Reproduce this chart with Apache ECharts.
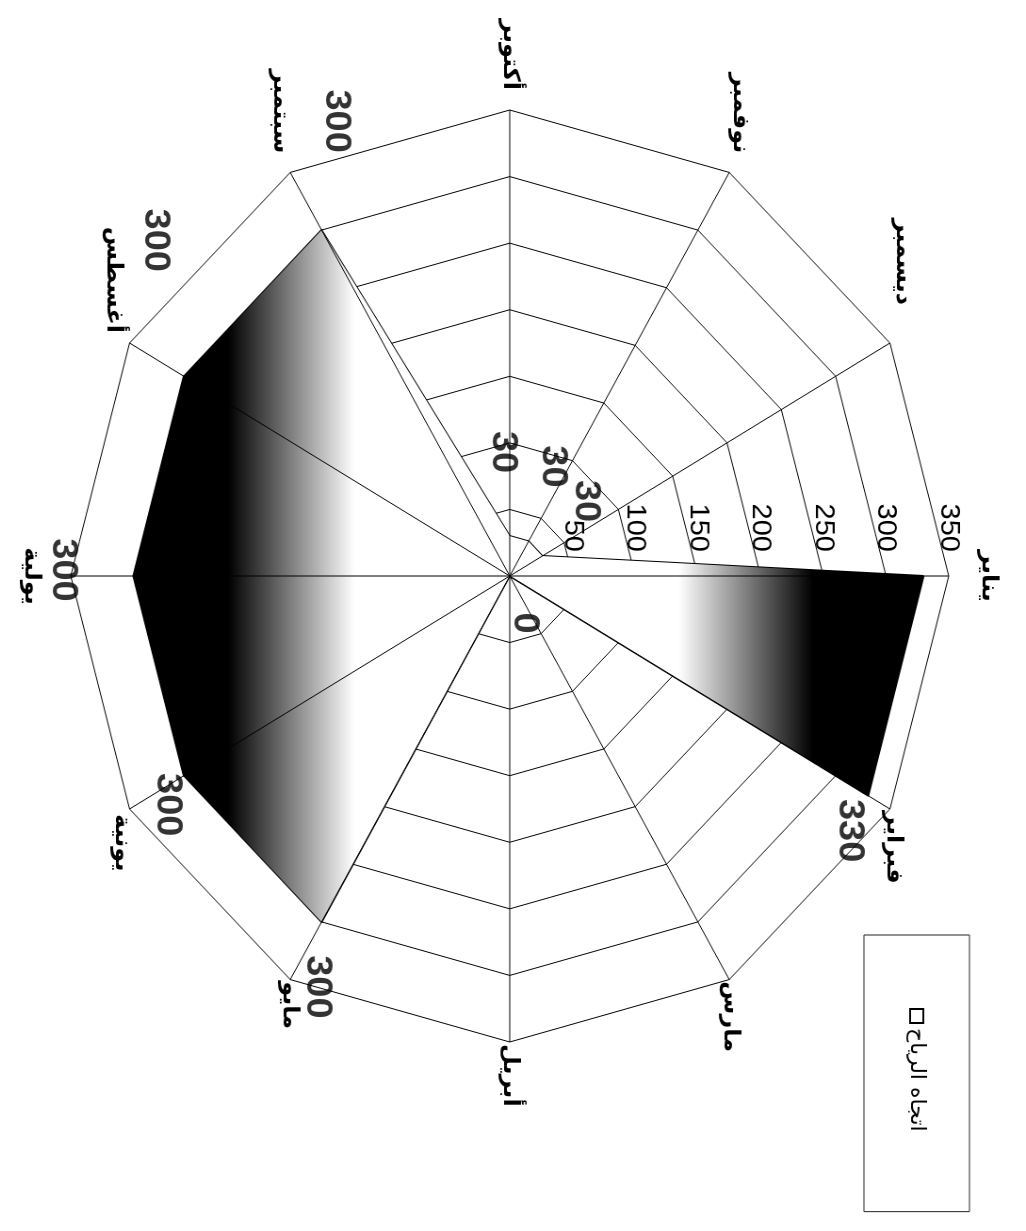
<!DOCTYPE html>
<html lang="ar">
<head>
<meta charset="utf-8">
<title>اتجاه الرياح</title>
<script src="https://cdn.jsdelivr.net/npm/echarts@6/dist/echarts.min.js"></script>
<style>
  html, body { margin: 0; padding: 0; background: #fff; overflow: hidden; width: 1026px; height: 1231px; }
  /* the chart is laid out landscape and turned a quarter turn clockwise on the page */
  #chart {
    position: absolute; left: 0; top: 0;
    width: 1231px; height: 1089px;
    transform-origin: 0 0;
    transform: translate(1026px, 0) rotate(90deg) scaleY(0.94206);
  }
</style>
</head>
<body>
<div id="chart"></div>
<script>
// months, clockwise from the top spoke
const months = ['يناير', 'فبراير', 'مارس', 'أبريل', 'مايو', 'يونية', 'يولية', 'أغسطس', 'سبتمبر', 'أكتوبر', 'نوفمبر', 'ديسمبر'];
// prevailing wind direction (degrees) for each month
const windDirection = [330, 330, 0, 0, 300, 300, 300, 300, 300, 30, 30, 30];
const seriesName = 'اتجاه الرياح';
const axisMin = 0;
const axisMax = 350;
const axisStep = 50;

// where each month's value label sits relative to its point; null hides it
const labelOffsets = [null, [35, 20], [47, -15], null, [65, 5], [29, 18], [-6, 75], [-136, 31], [-109, -15], [-84, 8], [-75, -26], [-55, -46]];
// distance of each month name from the outer ring
const nameGaps = [30, 4, 2, 2, 2, 10, 30, 20, 22, 20, 22, 16];
// months whose name is nudged further away from its spoke
const nudgedNames = [months[11]];

const CENTER = [576, 548];
const RADIUS = 466;
const NUM_FONT = '"Liberation Sans Narrow", "Arial Narrow", "Liberation Sans", Arial, sans-serif';
const AR_FONT = '"DejaVu Sans", sans-serif';

// radar indicators run counter-clockwise, so keep the first month on top and reverse the rest
const radarOrder = [0].concat(months.map((_, i) => i).slice(1).reverse());

const indicators = radarOrder.map(function (i) {
  const ind = { name: months[i], min: axisMin, max: axisMax, nameGap: nameGaps[i] };
  if (i === 0) ind.axisLabel = { show: true };
  return ind;
});

const labelPoints = windDirection.map(function (v, i) {
  const off = labelOffsets[i];
  return {
    value: [v, i],
    label: off ? { show: true, offset: off } : { show: false }
  };
});

const chart = echarts.init(document.getElementById('chart'), null, { renderer: 'canvas' });

chart.setOption({
  backgroundColor: '#fff',
  animation: false,
  legend: {
    data: [{ name: seriesName, icon: 'rect', itemStyle: { color: '#fff', borderColor: '#000', borderWidth: 2 } }],
    left: 935,
    top: 60,
    padding: [45, 80, 45, 73],
    borderColor: '#222',
    borderWidth: 1,
    itemWidth: 14,
    itemHeight: 14,
    textStyle: { fontSize: 22, color: '#000', fontFamily: AR_FONT }
  },
  radar: {
    center: CENTER,
    radius: RADIUS,
    startAngle: 90,
    shape: 'polygon',
    splitNumber: (axisMax - axisMin) / axisStep,
    indicator: indicators,
    axisName: {
      color: '#000', fontSize: 24, fontWeight: 'bold', fontFamily: AR_FONT,
      formatter: name => nudgedNames.indexOf(name) >= 0 ? '{far|' + name + '}' : name,
      rich: {
        far: { color: '#000', fontSize: 24, fontWeight: 'bold', fontFamily: AR_FONT, padding: [0, 30, 0, 0] }
      }
    },
    axisLine: { show: false },
    axisTick: { show: false },
    splitArea: { show: false },
    splitLine: { lineStyle: { color: '#000', width: 1 } },
    axisLabel: { show: false, color: '#000', fontSize: 29, fontFamily: NUM_FONT, margin: 24 }
  },
  polar: { center: CENTER, radius: RADIUS },
  angleAxis: {
    type: 'category',
    data: months,
    startAngle: 90,
    clockwise: true,
    boundaryGap: false,
    z: 5,
    axisLine: { show: false },
    axisTick: { show: false },
    axisLabel: { show: false },
    splitLine: { show: true, lineStyle: { color: '#000', width: 1 } }
  },
  radiusAxis: { min: axisMin, max: axisMax, show: false },
  series: [
    {
      type: 'radar',
      name: seriesName,
      symbol: 'none',
      lineStyle: { color: '#000', width: 2 },
      itemStyle: { color: '#000' },
      areaStyle: {
        opacity: 1,
        color: {
          type: 'linear', x: 0, y: 0, x2: 0, y2: 1,
          colorStops: [
            { offset: 0, color: '#000' },
            { offset: 0.14, color: '#000' },
            { offset: 0.31, color: '#fff' },
            { offset: 0.72, color: '#fff' },
            { offset: 0.88, color: '#000' },
            { offset: 1, color: '#000' }
          ]
        }
      },
      data: [{ name: seriesName, value: radarOrder.map(i => windDirection[i]) }]
    },
    {
      type: 'scatter',
      name: 'labels',
      coordinateSystem: 'polar',
      symbol: 'circle',
      symbolSize: 1,
      z: 6,
      itemStyle: { color: 'rgba(0,0,0,0)' },
      label: {
        position: 'inside',
        color: '#000',
        fontSize: 38,
        fontWeight: 'bold',
        fontFamily: NUM_FONT,
        formatter: p => String(p.value[0])
      },
      data: labelPoints
    }
  ]
});
</script>
</body>
</html>
